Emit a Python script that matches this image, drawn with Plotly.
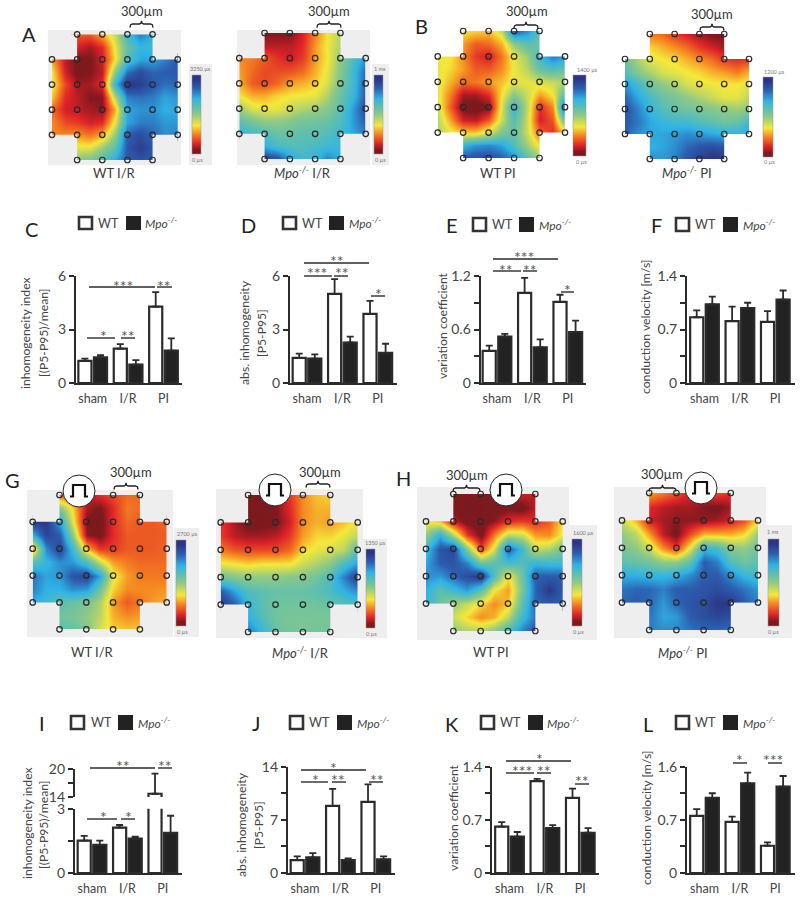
import plotly.graph_objects as go

# --- bar data ---
GROUPS = ["sham", "I/R", "PI"]

C_WT = [1.24, 1.93, 4.28]
C_WT_ERR = [0.13, 0.25, 0.82]
C_MPO = [1.44, 1.03, 1.82]
C_MPO_ERR = [0.12, 0.25, 0.68]

D_WT = [1.41, 5.0, 3.88]
D_WT_ERR = [0.24, 0.83, 0.72]
D_MPO = [1.37, 2.27, 1.69]
D_MPO_ERR = [0.23, 0.33, 0.51]

E_WT = [0.36, 1.01, 0.91]
E_WT_ERR = [0.06, 0.17, 0.08]
E_MPO = [0.52, 0.40, 0.57]
E_MPO_ERR = [0.03, 0.09, 0.13]

F_WT = [0.86, 0.81, 0.80]
F_WT_ERR = [0.09, 0.19, 0.14]
F_MPO = [1.03, 0.98, 1.09]
F_MPO_ERR = [0.10, 0.07, 0.12]

I_WT = [1.51, 2.12, 14.7]
I_WT_ERR = [0.22, 0.12, 4.3]
I_MPO = [1.31, 1.61, 1.87]
I_MPO_ERR = [0.20, 0.09, 0.80]

J_WT = [1.7, 8.84, 9.36]
J_WT_ERR = [0.49, 2.23, 2.32]
J_MPO = [2.06, 1.7, 1.79]
J_MPO_ERR = [0.56, 0.22, 0.40]

K_WT = [0.61, 1.21, 0.99]
K_WT_ERR = [0.06, 0.03, 0.12]
K_MPO = [0.48, 0.59, 0.53]
K_MPO_ERR = [0.06, 0.04, 0.06]

L_WT = [0.86, 0.77, 0.41]
L_WT_ERR = [0.10, 0.08, 0.05]
L_MPO = [1.13, 1.35, 1.30]
L_MPO_ERR = [0.07, 0.16, 0.16]

# --- activation maps: % of colour bar, half-electrode grid, None outside the cross ---
n = None

MAP_A1 = [
    [n, n, 20, 20, 30, 42, 65, 78, 70, n, n],
    [n, n, 12, 8, 14, 38, 58, 68, 66, n, n],
    [28, 10, 4, 4, 12, 35, 62, 72, 72, 78, 85],
    [36, 12, 3, 5, 10, 52, 80, 88, 82, 84, 85],
    [38, 18, 8, 8, 14, 68, 95, 92, 85, 80, 82],
    [32, 14, 10, 5, 5, 45, 78, 80, 78, 72, 75],
    [22, 12, 10, 8, 6, 30, 72, 75, 75, 70, 72],
    [26, 18, 16, 12, 14, 38, 72, 78, 78, 74, 74],
    [25, 26, 27, 24, 30, 50, 84, 88, 82, 76, 78],
    [n, n, 38, 38, 48, 60, 85, 92, 85, n, n],
    [n, n, 52, 55, 62, 72, 84, 86, 84, n, n],
]
MAP_A2 = [
    [n, n, 5, 4, 5, 12, 25, 36, 45, n, n],
    [n, n, 10, 10, 10, 14, 28, 37, 46, n, n],
    [26, 24, 20, 15, 12, 16, 28, 36, 50, 64, 74],
    [28, 22, 18, 18, 19, 22, 30, 38, 52, 66, 82],
    [30, 20, 18, 22, 28, 30, 33, 40, 54, 66, 84],
    [36, 30, 30, 34, 36, 37, 38, 46, 58, 68, 84],
    [48, 40, 38, 38, 42, 46, 48, 52, 60, 74, 88],
    [60, 54, 50, 50, 52, 55, 56, 58, 62, 74, 84],
    [68, 66, 62, 58, 58, 60, 60, 62, 66, 72, 78],
    [n, n, 70, 64, 62, 62, 64, 66, 68, n, n],
    [n, n, 92, 88, 72, 66, 68, 78, 70, n, n],
]
MAP_B1 = [
    [n, n, 36, 34, 32, 42, 86, 76, 62, n, n],
    [n, n, 28, 20, 22, 30, 50, 60, 56, n, n],
    [37, 36, 26, 16, 12, 24, 38, 48, 66, 80, 74],
    [38, 34, 28, 20, 20, 26, 37, 44, 58, 62, 58],
    [38, 30, 22, 24, 28, 32, 38, 38, 40, 42, 46],
    [38, 24, 8, 8, 14, 36, 52, 42, 28, 36, 62],
    [40, 20, 3, 1, 5, 40, 68, 44, 14, 26, 90],
    [44, 28, 12, 10, 20, 42, 62, 42, 12, 20, 60],
    [46, 38, 34, 34, 42, 54, 58, 42, 22, 14, 32],
    [n, n, 68, 74, 76, 72, 62, 48, 34, n, n],
    [n, n, 86, 88, 88, 84, 76, 60, 48, n, n],
]
MAP_B2 = [
    [n, n, 24, 22, 16, 12, 8, 4, 4, n, n],
    [n, n, 34, 30, 26, 22, 16, 12, 8, n, n],
    [56, 46, 38, 36, 34, 30, 26, 22, 16, 14, 16],
    [62, 52, 46, 40, 38, 36, 34, 30, 28, 24, 30],
    [74, 66, 56, 50, 46, 40, 38, 37, 36, 36, 38],
    [82, 72, 64, 58, 54, 50, 46, 42, 38, 38, 44],
    [86, 78, 68, 62, 58, 56, 54, 52, 50, 48, 50],
    [84, 80, 72, 68, 66, 66, 62, 60, 56, 58, 66],
    [84, 76, 72, 72, 74, 76, 74, 72, 70, 70, 72],
    [n, n, 70, 72, 76, 82, 86, 88, 86, n, n],
    [n, n, 76, 74, 78, 86, 92, 96, 94, n, n],
]
MAP_G1 = [
    [n, n, 22, 14, 10, 14, 18, 22, 22, n, n],
    [n, n, 52, 34, 8, 4, 14, 24, 22, n, n],
    [92, 94, 72, 38, 4, 2, 14, 22, 20, 20, 22],
    [70, 90, 84, 50, 6, 3, 14, 20, 20, 20, 20],
    [28, 76, 90, 66, 32, 16, 16, 20, 20, 20, 22],
    [60, 68, 76, 74, 62, 42, 28, 24, 22, 22, 22],
    [80, 72, 74, 86, 90, 72, 38, 28, 24, 24, 24],
    [78, 70, 70, 76, 74, 56, 34, 26, 26, 26, 27],
    [70, 66, 60, 58, 54, 46, 28, 20, 24, 28, 30],
    [n, n, 56, 54, 50, 44, 30, 26, 28, n, n],
    [n, n, 60, 58, 52, 40, 34, 32, 32, n, n],
]
MAP_G2 = [
    [n, n, 4, 2, 6, 16, 26, 32, 34, n, n],
    [n, n, 2, 2, 5, 14, 26, 30, 30, n, n],
    [16, 8, 2, 3, 4, 12, 26, 30, 28, 32, 38],
    [16, 10, 8, 8, 10, 16, 28, 34, 34, 38, 44],
    [24, 20, 18, 18, 18, 22, 34, 38, 40, 44, 60],
    [38, 36, 34, 36, 36, 36, 42, 46, 52, 64, 74],
    [56, 52, 50, 50, 50, 52, 52, 56, 64, 78, 92],
    [84, 72, 62, 60, 58, 58, 58, 60, 64, 70, 76],
    [94, 84, 68, 60, 56, 56, 56, 56, 58, 60, 62],
    [n, n, 70, 62, 56, 54, 54, 54, 54, n, n],
    [n, n, 80, 68, 58, 55, 54, 55, 56, n, n],
]
MAP_H1 = [
    [n, n, 2, 1, 2, 4, 8, 12, 10, n, n],
    [n, n, 2, 1, 1, 2, 4, 2, 10, n, n],
    [36, 30, 10, 2, 1, 6, 14, 16, 14, 20, 36],
    [50, 70, 46, 16, 3, 24, 44, 42, 28, 26, 38],
    [66, 86, 90, 52, 18, 40, 84, 66, 42, 46, 56],
    [72, 84, 86, 78, 56, 60, 64, 62, 68, 66, 66],
    [76, 74, 82, 88, 94, 62, 36, 56, 84, 84, 84],
    [70, 60, 66, 74, 60, 36, 28, 54, 82, 94, 84],
    [68, 56, 48, 42, 34, 26, 32, 60, 82, 84, 82],
    [n, n, 42, 34, 26, 30, 44, 66, 80, n, n],
    [n, n, 50, 46, 46, 52, 64, 78, 86, n, n],
]
MAP_H2 = [
    [n, n, 28, 24, 18, 12, 14, 18, 14, n, n],
    [n, n, 14, 10, 8, 8, 5, 3, 8, n, n],
    [42, 30, 12, 8, 6, 6, 6, 8, 12, 18, 34],
    [50, 44, 28, 10, 3, 18, 30, 30, 30, 34, 50],
    [54, 50, 42, 26, 16, 38, 68, 64, 52, 50, 56],
    [60, 58, 56, 50, 50, 60, 84, 78, 62, 56, 60],
    [70, 70, 68, 68, 70, 76, 84, 84, 76, 68, 66],
    [80, 82, 82, 78, 84, 84, 86, 88, 84, 80, 74],
    [82, 84, 82, 74, 82, 86, 88, 94, 94, 84, 78],
    [n, n, 80, 72, 74, 84, 88, 90, 88, n, n],
    [n, n, 78, 76, 76, 80, 82, 82, 80, n, n],
]

MAP_SCALE = [
    [0.0, "#7a1a1e"], [0.05, "#80191e"], [0.13, "#de2228"], [0.25, "#f58220"], [0.36, "#f5e83a"],
    [0.5, "#8fc985"], [0.6, "#5dbfb0"], [0.7, "#2fb3e6"], [0.83, "#2c5fb0"], [0.95, "#2b3486"], [1.0, "#2b3486"],
]

INK = "#2b2b2b"
TEXT = "#444444"
FONT = "Lato, sans-serif"
MPO = "<i>Mpo<sup>-/-</sup></i>"
GREY = "#eeeeee"

fig = go.Figure()
shapes = []
notes = []
axis_no = [0]


def fx(x):
    return x / 800


def fy(y):
    return 1 - y / 900


def text(x, y, s, size=13, color=TEXT, anchor="center", angle=0):
    notes.append(dict(
        x=fx(x), y=fy(y), xref="paper", yref="paper", text=s, showarrow=False,
        xanchor=anchor, yanchor="middle", textangle=angle,
        font=dict(family=FONT, size=size, color=color),
    ))


def rect(x0, y0, x1, y1, fill, line=None, width=0, layer="below"):
    shapes.append(dict(
        type="rect", xref="paper", yref="paper", x0=fx(x0), x1=fx(x1), y0=fy(y0), y1=fy(y1),
        fillcolor=fill, line=dict(color=line or fill, width=width), layer=layer,
    ))


def path(points, width, color=INK):
    d = " ".join(f"{c} {fx(x):.5f},{fy(y):.5f}" for c, x, y in points)
    shapes.append(dict(type="path", xref="paper", yref="paper", path=d,
                       line=dict(color=color, width=width), layer="above"))


def brace(x0, x1, y):
    mid = (x0 + x1) / 2
    path([("M", x0, y + 3.5), ("L", x0 + 0.5, y + 1), ("L", x0 + 2.5, y), ("L", mid - 2, y),
          ("L", mid - 0.5, y - 1), ("L", mid, y - 3), ("L", mid + 0.5, y - 1), ("L", mid + 2, y),
          ("L", x1 - 2.5, y), ("L", x1 - 0.5, y + 1), ("L", x1, y + 3.5)], 1.3, "#222222")


def pulse(cx, cy):
    shapes.append(dict(type="circle", xref="paper", yref="paper",
                       x0=fx(cx - 16), x1=fx(cx + 16), y0=fy(cy + 16), y1=fy(cy - 16),
                       fillcolor="white", line=dict(color="#222222", width=1), layer="above"))
    path([("M", cx - 9, cy + 5.5), ("L", cx - 6, cy + 5.5), ("L", cx - 6, cy - 6),
          ("L", cx + 6, cy - 6), ("L", cx + 6, cy + 5.5), ("L", cx + 9, cy + 5.5)], 2.2, "#111111")


def activation_map(grid, box, bar, bar_labels, title, title_x, title_y, mask=GREY):
    axis_no[0] += 1
    k = axis_no[0]
    x0, x1, y0, y1 = box
    bx0, bx1, by0, by1 = bar
    idx = list(range(11))
    fig.add_trace(go.Heatmap(
        z=grid, x=idx, y=idx, zmin=0, zmax=100, zsmooth="best", colorscale=MAP_SCALE,
        hoverongaps=False, xaxis=f"x{k}", yaxis=f"y{k}",
        colorbar=dict(
            x=fx(bx0), xanchor="left", xpad=0, ypad=0, y=fy(by1), yanchor="bottom",
            len=(by1 - by0) / 900, lenmode="fraction", thickness=bx1 - bx0, thicknessmode="pixels",
            showticklabels=False, ticks="", outlinewidth=0.5, outlinecolor="#999999",
        ),
    ))
    # square off the four blank corners of the cross
    for cx, cy in ((0, 0), (8, 0), (0, 8), (8, 8)):
        fig.add_trace(go.Scatter(
            x=[cx, cx + 2, cx + 2, cx, cx], y=[cy, cy, cy + 2, cy + 2, cy], mode="lines", fill="toself",
            fillcolor=mask, line=dict(width=0), hoverinfo="skip", xaxis=f"x{k}", yaxis=f"y{k}",
        ))
    ex = [i for i in range(0, 11, 2) for j in range(0, 11, 2) if grid[j][i] is not None]
    ey = [j for i in range(0, 11, 2) for j in range(0, 11, 2) if grid[j][i] is not None]
    fig.add_trace(go.Scatter(
        x=ex, y=ey, mode="markers", cliponaxis=False, xaxis=f"x{k}", yaxis=f"y{k}",
        marker=dict(size=5.5, color="rgba(0,0,0,0)", line=dict(color="#2a2a2a", width=1.2)),
    ))
    fig.layout[f"xaxis{k}"] = dict(domain=[fx(x0), fx(x1)], range=[0, 10], visible=False, anchor=f"y{k}")
    fig.layout[f"yaxis{k}"] = dict(domain=[fy(y1), fy(y0)], range=[10, 0], visible=False, anchor=f"x{k}")
    text(bar_labels[0][1], bar_labels[0][2], bar_labels[0][0], size=5.5, color="#777777")
    text(bar_labels[1][1], bar_labels[1][2], bar_labels[1][0], size=5.5, color="#777777")
    text(title_x, title_y, title, size=13, color="#3a3a3a")


def bar_axes(wt, wt_err, mpo, mpo_err, xl, xr, g0, y_top, y_bot, y_max, ticks, labels, y_min=0, show_x=True):
    axis_no[0] += 1
    k = axis_no[0]
    pitch = 35.4
    for vals, err, color, off in ((wt, wt_err, "white", -0.405), (mpo, mpo_err, "#222222", 0.035)):
        fig.add_trace(go.Bar(
            x=[0, 1, 2], y=vals, width=0.37, offset=off, marker=dict(color=color, line=dict(color=INK, width=2.2)),
            error_y=dict(type="data", symmetric=False, array=err, arrayminus=[0, 0, 0],
                         color=INK, thickness=1.8, width=3.5),
            xaxis=f"x{k}", yaxis=f"y{k}",
        ))
    fig.layout[f"xaxis{k}"] = dict(
        domain=[fx(xl), fx(xr)], range=[(xl - g0) / pitch, (xr - g0) / pitch], anchor=f"y{k}",
        tickvals=[0, 1, 2], ticktext=GROUPS, ticks="", showgrid=False, zeroline=False,
        showline=show_x, linecolor=INK, linewidth=2.2, showticklabels=show_x, ticklabelstandoff=3,
        tickfont=dict(family=FONT, size=12.5, color=TEXT),
    )
    fig.layout[f"yaxis{k}"] = dict(
        domain=[fy(y_bot), fy(y_top)], range=[y_min, y_max], anchor=f"x{k}",
        tickvals=ticks, ticktext=labels, ticks="outside", ticklen=5, tickwidth=2, tickcolor=INK,
        showgrid=False, zeroline=False, showline=True, linecolor=INK, linewidth=2.2,
        tickfont=dict(family=FONT, size=14, color=TEXT),
    )


def legend(box1, box2, wt_x, mpo_x, y0, y1):
    rect(box1, y0 + 1, box1 + 13, y1 - 1, "white", "#333333", 2.6, "above")
    rect(box2, y0, box2 + 15, y1, "#222222", layer="above")
    text(wt_x, (y0 + y1) / 2, "WT", size=12.5, anchor="left")
    text(mpo_x, (y0 + y1) / 2, MPO, size=12, anchor="left")


def sig(x0, x1, y, stars, star_x, star_y):
    shapes.append(dict(type="line", xref="paper", yref="paper", x0=fx(x0), x1=fx(x1), y0=fy(y), y1=fy(y),
                       line=dict(color=INK, width=1.4), layer="above"))
    text(star_x, star_y + 1.5, stars, size=16, color="#555555")


# --- top row maps ---
rect(48, 30, 181, 165, GREY)
rect(189, 64, 212, 165, GREY)
activation_map(MAP_A1, (52, 177.7, 34.3, 160), (192, 201, 75, 154),
               [("3250 µs", 201, 69), ("0 µs", 197, 160)], "WT I/R", 115, 173)
rect(237, 30, 370, 165, GREY)
rect(372, 64, 389, 165, GREY)
activation_map(MAP_A2, (239.3, 365.7, 33, 159), (374, 383, 75, 154),
               [("1 ms", 380, 69), ("0 µs", 380, 160)], MPO + " I/R", 302, 173)
activation_map(MAP_B1, (437.7, 565, 31, 158), (573, 586, 75, 156),
               [("1400 µs", 587, 70), ("0 µs", 581, 162)], "WT PI", 498, 173, mask="white")
activation_map(MAP_B2, (625, 749, 34, 159), (763, 773, 77, 157),
               [("1200 µs", 774, 72), ("0 µs", 769, 162)], MPO + " PI", 687, 173, mask="white")

# --- paced maps ---
rect(27, 490, 173, 637, GREY)
rect(174, 528, 199, 637, GREY)
activation_map(MAP_G1, (32.7, 166.7, 495, 629.3), (176, 186, 540, 626),
               [("2700 µs", 187, 534), ("0 µs", 182, 632)], "WT I/R", 92, 652)
rect(216, 489, 363, 638, GREY)
rect(363, 539, 387, 638, GREY)
activation_map(MAP_G2, (220.7, 357.7, 495, 632), (366, 375, 549, 628),
               [("1350 µs", 375, 543), ("0 µs", 371, 634)], MPO + " I/R", 300, 652)
rect(417, 487, 569, 640, GREY)
rect(569, 525, 597, 640, GREY)
activation_map(MAP_H1, (426, 562.7, 494, 631), (572, 582, 539, 626),
               [("1600 µs", 583, 533), ("0 µs", 578, 632)], "WT PI", 491, 652)
rect(614, 487, 766, 638, GREY)
rect(766, 525, 792, 638, GREY)
activation_map(MAP_H2, (622, 758, 493, 630), (768, 779, 539, 626),
               [("1 ms", 773, 532), ("0 µs", 773, 632)], MPO + " PI", 683, 652)

for cx, cy, bx0, bx1, by in [(142, 11, 130, 153, 24), (329, 11, 317, 341, 24), (527, 11, 514, 538, 25),
                             (712, 14, 700, 724, 27), (131, 472, 114, 138, 486), (320, 472, 306, 330, 484),
                             (467, 475, 453, 480, 488), (662, 474, 649, 676, 488)]:
    text(cx, cy, "300µm", size=13, color="#333333")
    brace(bx0, bx1, by)

for cx, cy in [(79, 491), (275, 490), (506, 490), (701, 488)]:
    pulse(cx, cy)

for s, x, y in [("A", 29, 34), ("B", 421, 26), ("C", 31, 229), ("D", 248, 225), ("E", 452, 225), ("F", 656, 225),
                ("G", 12, 480), ("H", 403, 478), ("I", 42, 723), ("J", 256, 723), ("K", 452, 724), ("L", 648, 724)]:
    text(x, y, s, size=20, color="#222222")

# --- bar panels ---
bar_axes(C_WT, C_WT_ERR, C_MPO, C_MPO_ERR, 76, 182, 92.7, 276, 383, 6, [0, 3, 6], ["0", "3", "6"])
bar_axes(D_WT, D_WT_ERR, D_MPO, D_MPO_ERR, 290, 397, 307, 276, 383, 6, [0, 3, 6], ["0", "3", "6"])
bar_axes(E_WT, E_WT_ERR, E_MPO, E_MPO_ERR, 480.7, 586, 497, 276, 383, 1.2,
         [0, 0.3, 0.6, 0.9, 1.2], ["0", "", "0.6", "", "1.2"])
bar_axes(F_WT, F_WT_ERR, F_MPO, F_MPO_ERR, 687, 795, 704.5, 276, 383, 1.4,
         [0, 0.35, 0.7, 1.05, 1.4], ["0", "", "0.7", "", "1.4"])
bar_axes(I_WT, I_WT_ERR, I_MPO, I_MPO_ERR, 75, 182, 92, 808.7, 873, 3, [0, 1.5, 3], ["0", "", "3"])
bar_axes(I_WT, I_WT_ERR, [None] * 3, [0, 0, 0], 75, 182, 92, 769, 797, 20, [14, 17, 20], ["14", "", "20"],
         y_min=14, show_x=False)
bar_axes(J_WT, J_WT_ERR, J_MPO, J_MPO_ERR, 288, 395, 305, 766.7, 873, 14,
         [0, 3.5, 7, 10.5, 14], ["0", "", "7", "", "14"])
bar_axes(K_WT, K_WT_ERR, K_MPO, K_MPO_ERR, 492, 599, 509.5, 766.7, 873, 1.4,
         [0, 0.35, 0.7, 1.05, 1.4], ["0", "", "0.7", "", "1.4"])
bar_axes(L_WT, L_WT_ERR, L_MPO, L_MPO_ERR, 687, 795, 704.5, 766.7, 873, 1.6,
         [0, 0.4, 0.8, 1.2, 1.6], ["0", "", "0.7", "", "1.6"])

legend(79, 126, 96, 143, 216, 230)
legend(283, 329, 300, 347, 216, 230)
legend(473, 519, 490, 537, 217, 232)
legend(676, 723, 693, 741, 217, 232)
legend(71, 118, 89, 136, 715, 730)
legend(290, 337, 307, 355, 715, 730)
legend(481, 528, 498, 545, 715, 730)
legend(676, 723, 693, 741, 715, 730)

for s, x, y in [("inhomogeneity index", 25, 333), ("[(P5-P95)/mean]", 43, 333), ("abs. inhomogeneity", 244, 333),
                ("[P5-P95]", 261, 333), ("variation coefficient", 442, 326), ("conduction velocity [m/s]", 646, 327),
                ("inhomogeneity index", 27, 823), ("[(P5-P95)/mean]", 43, 825), ("abs. inhomogeneity", 241, 825),
                ("[P5-P95]", 258, 825), ("variation coefficient", 453, 818), ("conduction velocity [m/s]", 646, 818)]:
    text(x, y, s, size=12.2, angle=-90)

sig(89, 155, 287, "***", 123, 284)
sig(157, 172, 287, "**", 164, 284)
sig(87, 115, 338, "*", 103, 334)
sig(121, 135, 338, "**", 128, 334)
sig(304, 369, 263, "**", 337, 259)
sig(304, 332, 276, "***", 317, 271)
sig(334, 348, 276, "**", 342, 271)
sig(371, 385, 296, "*", 378, 292)
sig(493, 558, 259, "***", 524, 255)
sig(493, 521, 271, "**", 506, 268)
sig(523, 537, 271, "**", 530, 268)
sig(561, 574, 292, "*", 567, 288)
sig(90, 155, 768, "**", 123, 764)
sig(158, 172, 768, "**", 165, 764)
sig(87, 117, 819, "*", 103, 815)
sig(121, 135, 819, "*", 128, 815)
sig(301, 366, 770, "*", 333, 766)
sig(301, 328, 782, "*", 315, 778)
sig(332, 346, 782, "**", 338, 778)
sig(369, 383, 782, "**", 377, 778)
sig(506, 571, 761, "*", 539, 757)
sig(506, 534, 773, "***", 522, 769)
sig(537, 551, 773, "**", 544, 769)
sig(575, 589, 784, "**", 582, 779)
sig(733, 747, 763, "*", 739, 758)
sig(768, 782, 763, "***", 773, 758)

fig.update_layout(
    width=800, height=900, margin=dict(l=0, r=0, t=0, b=0, autoexpand=False),
    paper_bgcolor="white", plot_bgcolor="rgba(0,0,0,0)", showlegend=False, barmode="overlay",
    font=dict(family=FONT, color=TEXT), shapes=shapes, annotations=notes,
)
fig.write_html("out.html", config={"displayModeBar": False}, post_script="document.body.style.margin='0';")
